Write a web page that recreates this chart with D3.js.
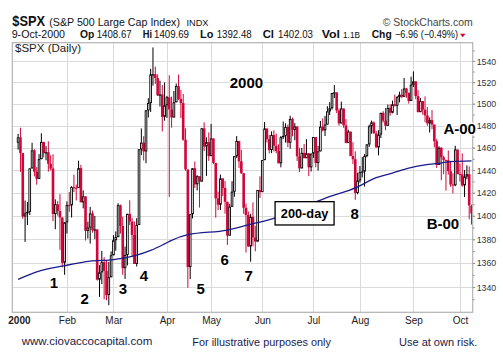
<!DOCTYPE html>
<html><head><meta charset="utf-8">
<script src="https://cdn.jsdelivr.net/npm/d3@7/dist/d3.min.js"></script>
<style>
body{margin:0;background:#fff;}
svg{display:block;font-family:"Liberation Sans",Arial,Helvetica,sans-serif;}
</style>
</head><body>
<svg id="chart" width="503" height="357"></svg>
<script>
// ---------------- data ----------------
const dates = [
"1999-12-31",
"2000-01-03","2000-01-04","2000-01-05","2000-01-06","2000-01-07","2000-01-10","2000-01-11","2000-01-12","2000-01-13","2000-01-14",
"2000-01-18","2000-01-19","2000-01-20","2000-01-21","2000-01-24","2000-01-25","2000-01-26","2000-01-27","2000-01-28","2000-01-31",
"2000-02-01","2000-02-02","2000-02-03","2000-02-04","2000-02-07","2000-02-08","2000-02-09","2000-02-10","2000-02-11","2000-02-14",
"2000-02-15","2000-02-16","2000-02-17","2000-02-18","2000-02-22","2000-02-23","2000-02-24","2000-02-25","2000-02-28","2000-02-29",
"2000-03-01","2000-03-02","2000-03-03","2000-03-06","2000-03-07","2000-03-08","2000-03-09","2000-03-10","2000-03-13","2000-03-14",
"2000-03-15","2000-03-16","2000-03-17","2000-03-20","2000-03-21","2000-03-22","2000-03-23","2000-03-24","2000-03-27","2000-03-28",
"2000-03-29","2000-03-30","2000-03-31",
"2000-04-03","2000-04-04","2000-04-05","2000-04-06","2000-04-07","2000-04-10","2000-04-11","2000-04-12","2000-04-13","2000-04-14",
"2000-04-17","2000-04-18","2000-04-19","2000-04-20","2000-04-24","2000-04-25","2000-04-26","2000-04-27","2000-04-28",
"2000-05-01","2000-05-02","2000-05-03","2000-05-04","2000-05-05","2000-05-08","2000-05-09","2000-05-10","2000-05-11","2000-05-12",
"2000-05-15","2000-05-16","2000-05-17","2000-05-18","2000-05-19","2000-05-22","2000-05-23","2000-05-24","2000-05-25","2000-05-26",
"2000-05-30","2000-05-31",
"2000-06-01","2000-06-02","2000-06-05","2000-06-06","2000-06-07","2000-06-08","2000-06-09","2000-06-12","2000-06-13","2000-06-14",
"2000-06-15","2000-06-16","2000-06-19","2000-06-20","2000-06-21","2000-06-22","2000-06-23","2000-06-26","2000-06-27","2000-06-28",
"2000-06-29","2000-06-30",
"2000-07-03","2000-07-05","2000-07-06","2000-07-07","2000-07-10","2000-07-11","2000-07-12","2000-07-13","2000-07-14","2000-07-17",
"2000-07-18","2000-07-19","2000-07-20","2000-07-21","2000-07-24","2000-07-25","2000-07-26","2000-07-27","2000-07-28","2000-07-31",
"2000-08-01","2000-08-02","2000-08-03","2000-08-04","2000-08-07","2000-08-08","2000-08-09","2000-08-10","2000-08-11","2000-08-14",
"2000-08-15","2000-08-16","2000-08-17","2000-08-18","2000-08-21","2000-08-22","2000-08-23","2000-08-24","2000-08-25","2000-08-28",
"2000-08-29","2000-08-30","2000-08-31",
"2000-09-01","2000-09-05","2000-09-06","2000-09-07","2000-09-08","2000-09-11","2000-09-12","2000-09-13","2000-09-14","2000-09-15",
"2000-09-18","2000-09-19","2000-09-20","2000-09-21","2000-09-22","2000-09-25","2000-09-26","2000-09-27","2000-09-28","2000-09-29",
"2000-10-02","2000-10-03","2000-10-04","2000-10-05","2000-10-06","2000-10-09"
];

const opens = [
1464.47,
1469.25,1455.22,1399.42,1402.11,1403.45,1441.47,1457.60,1438.56,1432.25,1449.68,1465.15,1455.14,1455.90,1445.57,1441.36,1401.53,1410.03,1404.09,1398.56,1360.16,
1394.46,1409.28,1409.12,1424.97,1424.37,1424.24,1441.72,1411.70,1416.83,1387.12,1389.94,1402.05,1387.67,1388.26,1346.09,1352.17,1360.69,1353.43,1333.36,1348.05,
1366.42,1379.19,1381.76,1409.17,1391.28,1355.62,1366.70,1401.69,1395.07,1383.62,1359.15,1392.15,1458.47,1464.47,1456.63,1493.87,1500.64,1527.35,1527.46,1523.86,1507.73,1508.52,1487.92,
1498.58,1505.98,1494.73,1487.37,1501.34,1516.35,1504.46,1500.59,1467.17,1440.51,1356.56,1401.44,1441.61,1427.47,1434.54,1429.86,1477.44,1460.99,1464.92,
1452.43,1468.25,1446.29,1415.10,1409.57,1432.63,1424.17,1412.14,1383.05,1407.81,1420.96,1452.36,1466.04,1447.80,1437.21,1406.95,1400.72,1373.86,1399.05,1381.52,1378.02,1422.44,
1420.60,1448.81,1477.26,1467.63,1457.84,1471.36,1461.67,1456.95,1446.00,1469.44,1470.54,1478.73,1464.46,1486.00,1475.95,1479.13,1452.18,1441.48,1455.31,1450.55,1454.82,1442.39,
1454.60,1469.54,1446.23,1456.67,1478.90,1475.62,1480.88,1492.92,1495.84,1509.98,1510.49,1493.74,1481.96,1495.57,1480.19,1464.29,1474.47,1452.42,1449.62,1419.89,
1430.83,1438.10,1438.70,1452.56,1462.93,1479.32,1482.80,1472.87,1460.25,1471.84,1491.56,1484.43,1479.85,1496.07,1491.72,1499.48,1498.13,1505.97,1508.31,1506.45,1514.09,1509.84,1502.59,
1517.68,1520.77,1507.08,1492.25,1502.51,1494.50,1489.26,1481.99,1484.91,1480.87,1465.81,1444.51,1459.90,1451.34,1449.05,1448.72,1439.03,1427.21,1426.57,1458.29,
1436.52,1436.23,1426.46,1434.32,1436.28,1408.67
];

const highs = [
1472.42,
1478.00,1455.22,1413.27,1411.90,1441.47,1464.36,1458.66,1442.60,1454.20,1473.00,1465.15,1461.39,1465.71,1453.18,1454.09,1414.26,1412.73,1418.86,1398.56,1394.48,
1412.49,1420.61,1425.78,1435.91,1427.15,1448.36,1444.55,1422.10,1416.83,1394.93,1407.72,1404.55,1399.88,1388.59,1358.11,1370.11,1364.80,1362.14,1360.82,1369.63,
1383.46,1386.56,1410.88,1409.74,1399.21,1373.79,1401.82,1413.46,1398.39,1395.15,1397.99,1458.47,1477.33,1470.30,1493.92,1505.08,1532.50,1552.87,1534.63,1527.36,1521.45,1517.38,1519.81,
1507.19,1526.45,1506.55,1511.76,1518.68,1527.19,1512.80,1509.08,1477.52,1440.51,1401.53,1441.61,1447.69,1435.49,1434.54,1477.67,1482.94,1469.21,1473.62,
1481.51,1468.25,1446.29,1420.99,1436.03,1432.63,1430.28,1412.14,1410.26,1430.13,1452.39,1470.40,1466.04,1458.04,1437.21,1410.55,1403.77,1401.75,1411.65,1391.42,1422.45,1434.49,
1448.81,1483.23,1477.28,1471.36,1474.64,1475.65,1472.67,1462.93,1470.42,1483.62,1482.04,1480.77,1488.93,1487.32,1482.19,1479.13,1459.94,1459.66,1463.35,1467.63,1455.14,1454.68,
1469.58,1469.54,1461.65,1484.12,1486.56,1488.77,1497.69,1501.39,1509.99,1517.32,1510.49,1495.63,1501.92,1495.57,1485.88,1476.23,1474.47,1464.91,1456.68,1437.65,
1443.54,1451.59,1454.19,1462.93,1480.80,1484.52,1483.80,1475.15,1475.72,1491.64,1493.12,1496.09,1499.32,1499.47,1502.84,1508.45,1507.20,1511.16,1513.47,1523.95,1514.81,1510.49,1525.21,
1530.09,1520.77,1512.61,1505.34,1502.51,1506.76,1496.93,1487.45,1494.16,1480.96,1467.77,1461.16,1460.49,1452.77,1449.05,1457.42,1448.04,1437.22,1461.69,1458.29,
1445.60,1454.82,1439.99,1444.17,1443.30,1409.69
];

const lows = [
1458.19,
1438.36,1397.43,1377.68,1392.10,1400.73,1441.47,1434.42,1427.08,1432.25,1449.68,1451.30,1448.68,1438.54,1439.60,1395.42,1388.49,1400.16,1370.99,1356.20,1350.14,
1384.79,1403.49,1398.52,1420.63,1413.33,1424.24,1411.65,1406.43,1378.89,1380.53,1376.25,1385.58,1380.07,1345.32,1331.88,1342.44,1329.88,1329.15,1325.07,1348.05,
1366.42,1370.35,1381.76,1384.75,1349.99,1346.62,1357.88,1392.07,1364.84,1359.15,1356.99,1392.15,1453.32,1448.49,1446.06,1487.33,1492.39,1516.83,1518.46,1507.09,1497.45,1474.63,1484.38,
1486.96,1416.41,1478.05,1487.37,1501.34,1503.35,1486.78,1466.15,1439.34,1339.40,1346.50,1397.81,1424.26,1422.08,1407.13,1429.86,1456.98,1434.81,1448.15,
1452.43,1445.22,1398.36,1404.94,1405.08,1417.05,1401.85,1375.14,1383.05,1407.81,1416.54,1450.76,1441.67,1436.59,1401.74,1368.73,1373.43,1361.09,1373.93,1369.75,1378.02,1415.50,
1420.60,1448.81,1464.68,1454.74,1455.06,1456.49,1454.96,1445.99,1442.38,1467.71,1464.62,1460.42,1459.05,1470.18,1466.71,1448.03,1438.31,1441.48,1450.55,1450.55,1434.63,1438.71,
1450.85,1442.45,1439.56,1456.67,1474.76,1470.48,1480.88,1489.65,1494.56,1505.26,1491.35,1479.92,1481.96,1477.91,1463.80,1464.29,1452.42,1445.33,1413.89,1418.71,
1428.96,1433.49,1425.43,1451.31,1460.72,1472.61,1472.84,1459.89,1453.06,1468.56,1482.74,1475.74,1479.85,1488.99,1491.13,1497.42,1489.52,1501.25,1505.09,1506.45,1505.46,1500.09,1502.59,
1515.53,1504.21,1492.12,1492.25,1489.88,1483.01,1479.67,1473.61,1476.73,1460.22,1441.92,1444.51,1430.95,1436.30,1421.88,1435.93,1425.25,1419.44,1425.78,1436.29,
1429.83,1425.28,1416.31,1431.80,1397.06,1392.48
];

const closes = [
1469.25,
1455.22,1399.42,1402.11,1403.45,1441.47,1457.60,1438.56,1432.25,1449.68,1465.15,1455.14,1455.90,1445.57,1441.36,1401.53,1410.03,1404.09,1398.56,1360.16,1394.46,
1409.28,1409.12,1424.97,1424.37,1424.24,1441.72,1411.71,1416.83,1387.12,1389.94,1402.05,1387.67,1388.26,1346.09,1352.17,1360.69,1353.43,1333.36,1348.05,1366.42,
1379.19,1381.76,1409.17,1391.28,1355.62,1366.70,1401.69,1395.07,1383.62,1359.15,1392.14,1458.47,1464.47,1456.63,1493.87,1500.64,1527.35,1527.46,1523.86,1507.73,1508.52,1487.92,1498.58,
1505.97,1494.73,1487.37,1501.34,1516.35,1504.46,1500.59,1467.17,1440.51,1356.56,1401.44,1441.61,1427.47,1434.54,1429.86,1477.44,1460.99,1464.92,1452.43,
1468.25,1446.29,1415.10,1409.57,1432.63,1424.17,1412.14,1383.05,1407.81,1420.96,1452.36,1466.04,1447.80,1437.21,1406.95,1400.72,1373.86,1399.05,1381.52,1378.02,1422.45,1420.60,
1448.81,1477.26,1467.63,1457.84,1471.36,1461.67,1456.95,1446.00,1469.44,1470.54,1478.73,1464.46,1486.00,1475.95,1479.13,1452.18,1441.48,1455.31,1450.55,1454.82,1442.39,1454.60,
1469.54,1446.23,1456.67,1478.90,1475.62,1480.88,1492.92,1495.84,1509.98,1510.49,1493.74,1481.96,1495.57,1480.19,1464.29,1474.47,1452.42,1449.62,1419.89,1430.83,
1438.10,1438.70,1452.56,1462.93,1479.32,1482.80,1472.87,1460.25,1471.84,1491.56,1484.43,1479.85,1496.07,1491.72,1499.48,1498.13,1505.97,1508.31,1506.45,1514.09,1509.84,1502.59,1517.68,
1520.77,1507.08,1492.25,1502.51,1494.50,1489.26,1481.99,1484.91,1480.87,1465.81,1444.51,1459.90,1451.34,1449.05,1448.72,1439.03,1427.21,1426.57,1458.29,1436.51,
1436.23,1426.46,1434.32,1436.28,1408.99,1402.03
];

// 200-day moving average at sample dates
const maDates  = ["1999-12-31","2000-01-12","2000-01-31","2000-02-15","2000-03-01","2000-03-15","2000-03-23","2000-03-31","2000-04-05","2000-04-14","2000-05-10","2000-05-23","2000-06-08","2000-07-11","2000-07-31","2000-08-09","2000-08-21","2000-08-30","2000-09-11","2000-09-19","2000-09-26","2000-10-09"];
const maValues = [1346.3,1352.5,1357.7,1361.5,1362.8,1366.5,1370.5,1376.0,1379.0,1383.8,1387.8,1392.2,1397.9,1415.2,1425.2,1432.5,1437.3,1441.7,1444.5,1446.0,1447.4,1448.1];

const yTickValues = [1340,1360,1380,1400,1420,1440,1460,1480,1500,1520,1540];
const yMinorTicks = [1330,1340,1350,1360,1370,1380,1390,1400,1410,1420,1430,1440,1450,1460,1470,1480,1490,1500,1510,1520,1530,1540,1550];
const monthLabels = ["2000","Feb","Mar","Apr","May","Jun","Jul","Aug","Sep","Oct"];
const markLabels = ["1","2","3","4","5","6","7","8"];

// ---------------- layout ----------------
const svg = d3.select("#chart");
const L = 12.3, R = 472.7, T = 42.7, B = 312.3;
const RED = "#d0063b", BLACK = "#000";

const x = d3.scaleLinear().domain([-2.5, 195.5]).range([L, R]);   // index 0 = Dec 31 1999
const y = d3.scaleLog().domain([1319.3, 1557.4]).range([B, T]);

const idxOf = {};
dates.forEach((d, i) => idxOf[d] = i);

// month starts (first trading day of each month in 2000)
const monthStarts = [];
for (let i = 1; i < dates.length; i++) {
  if (dates[i].slice(0, 7) !== dates[i - 1].slice(0, 7)) monthStarts.push(i);
}

// defs clip
svg.append("defs").append("clipPath").attr("id", "plotclip")
  .append("rect").attr("x", L).attr("y", T).attr("width", R - L).attr("height", B - T);

// gridlines
const grid = svg.append("g");
grid.selectAll("line.h").data(yTickValues).join("line")
  .attr("x1", L).attr("x2", R).attr("y1", d => Math.round(y(d)) + 0.5).attr("y2", d => Math.round(y(d)) + 0.5)
  .attr("stroke", "#dadada").attr("stroke-width", 1);
grid.selectAll("line.v").data(monthStarts.slice(1)).join("line")
  .attr("y1", T).attr("y2", B).attr("x1", d => Math.round(x(d)) + 0.5).attr("x2", d => Math.round(x(d)) + 0.5)
  .attr("stroke", "#dadada").attr("stroke-width", 1);

// candles
const plot = svg.append("g").attr("clip-path", "url(#plotclip)");
const bw = 2.6;
const candles = dates.map((d, i) => ({
  i, o: opens[i], h: highs[i], l: lows[i], c: closes[i],
  col: (i === 0 || closes[i] >= closes[i - 1]) ? BLACK : RED
}));
const cg = plot.selectAll("g.c").data(candles).join("g");
cg.append("line")
  .attr("x1", d => x(d.i)).attr("x2", d => x(d.i))
  .attr("y1", d => y(d.h)).attr("y2", d => y(d.l))
  .attr("stroke", d => d.col).attr("stroke-width", 1);
cg.append("rect")
  .attr("x", d => d.c >= d.o ? x(d.i) - bw / 2 + 0.45 : x(d.i) - bw / 2)
  .attr("y", d => d.c >= d.o ? y(Math.max(d.o, d.c)) + 0.45 : y(Math.max(d.o, d.c)))
  .attr("width", d => d.c >= d.o ? bw - 0.9 : bw)
  .attr("height", d => Math.max(d.c >= d.o ? 0.3 : 1, Math.abs(y(d.o) - y(d.c)) - (d.c >= d.o ? 0.9 : 0)))
  .attr("fill", d => d.c >= d.o ? "#fff" : d.col)
  .attr("stroke", d => d.c >= d.o ? d.col : "none")
  .attr("stroke-width", 0.9);

// 200-day MA
const maPts = maDates.map((d, k) => [idxOf[d], maValues[k]]);
plot.append("path").datum(maPts)
  .attr("d", d3.line().x(p => x(p[0])).y(p => y(p[1])).curve(d3.curveMonotoneX))
  .attr("fill", "none").attr("stroke", "#1b1b8e").attr("stroke-width", 1.3);

// frame
svg.append("rect").attr("x", L).attr("y", T).attr("width", R - L).attr("height", B - T)
  .attr("fill", "none").attr("stroke", "#b3b3b3").attr("stroke-width", 1.2);

// y axis (right)
const yAxis = svg.append("g").attr("transform", `translate(${R},0)`)
  .call(d3.axisRight(y).tickValues(yTickValues).tickFormat(d3.format("d")).tickSize(2.5).tickPadding(1.5));
yAxis.select(".domain").remove();
yAxis.selectAll(".tick line").attr("stroke", "#999");
yAxis.selectAll(".tick text").attr("font-size", 9.5).attr("fill", "#333")
  .attr("font-family", '"Liberation Sans",Arial,sans-serif').attr("textLength", 19.5).attr("lengthAdjust", "spacingAndGlyphs");
const yMinor = svg.append("g").attr("transform", `translate(${R},0)`)
  .call(d3.axisRight(y).tickValues(yMinorTicks).tickFormat("").tickSize(2));
yMinor.select(".domain").remove();
yMinor.selectAll(".tick line").attr("stroke", "#999");

// x axis
const xAxis = svg.append("g").attr("transform", `translate(0,${B})`)
  .call(d3.axisBottom(x).tickValues(monthStarts).tickFormat((d, k) => monthLabels[k]).tickSize(0).tickPadding(4.5));
xAxis.select(".domain").remove();
xAxis.selectAll(".tick text").attr("font-size", 10).attr("fill", "#222")
  .attr("font-family", '"Liberation Sans",Arial,sans-serif')
  .attr("font-weight", (d, k) => k === 0 ? "bold" : "normal")
  .attr("dx", (d, k) => k === 0 ? -1.5 : 0);

// plot legend
svg.append("text").attr("x", 15).attr("y", 51.5).attr("font-size", 10).attr("fill", "#222")
  .attr("textLength", 66).attr("lengthAdjust", "spacingAndGlyphs").text("$SPX (Daily)");

// ---------------- header ----------------
const last = dates.length - 1;
const fmt2 = d3.format(".2f");
const chg = closes[last] - closes[last - 1];
const pct = chg / closes[last - 1] * 100;
const hdr = svg.append("g");
function t(xp, yp, txt, size, weight, len, fill) {
  const el = hdr.append("text").attr("x", xp).attr("y", yp).attr("font-size", size)
    .attr("font-weight", weight || "normal").attr("fill", fill || "#111").text(txt);
  if (len) el.attr("textLength", len).attr("lengthAdjust", "spacingAndGlyphs");
  return el;
}
const Y1 = 25.6, Y2 = 38.3;
t(12.3, Y1 + 0.4, "$SPX", 14, "bold", 32.7);
t(49.3, Y1, "(S&P 500 Large Cap Index)", 11.2, "normal", 130.7);
t(186.5, Y1, "INDX", 9.5, "normal", 22);
t(382.7, Y1, "\u00A9 StockCharts.com", 11.5, "normal", 90, "#444");
const d9 = new Date(dates[last] + "T00:00:00");
t(11.7, Y2, d3.timeFormat("%-d-%b-%Y")(d9), 10.5, "normal", 53.3);
t(80, Y2, "Op", 11, "bold", 14.3);
t(96.7, Y2, fmt2(opens[last]), 10.5, "normal", 35);
t(142.7, Y2, "Hi", 11, "bold", 9.3);
t(154, Y2, fmt2(highs[last]), 10.5, "normal", 35);
t(200, Y2, "Lo", 11, "bold", 13.3);
t(216.7, Y2, fmt2(lows[last]), 10.5, "normal", 35);
t(262.7, Y2, "Cl", 11, "bold", 11.3);
t(278, Y2, fmt2(closes[last]), 10.5, "normal", 35);
t(321.7, Y2, "Vol", 11, "bold", 18.3);
t(343, Y2, "1.1B", 9.5, "normal", 17);
t(371.7, Y2, "Chg", 11, "bold", 20);
t(395, Y2, `${fmt2(chg)} (${fmt2(pct)}%)`, 10.5, "normal", 63);
hdr.append("path").attr("d", "M460,33.8 L465.5,33.8 L462.75,37.3 Z").attr("fill", RED);

// ---------------- annotations ----------------
const ann = svg.append("g").attr("font-weight", "bold").attr("fill", "#000")
  .attr("stroke", "#fff").attr("stroke-width", 3).attr("paint-order", "stroke")
  .attr("text-anchor", "middle").attr("dominant-baseline", "central");
const markAnchors = [[15.4,1343.6],[28.6,1330.7],[45.1,1338.9],[54.1,1349.9],[78.5,1338.9],[88.8,1363.0],[99.2,1349.9],[144.7,1402.2]];
markLabels.forEach((s, k) => {
  ann.append("text").attr("x", x(markAnchors[k][0])).attr("y", y(markAnchors[k][1])).attr("font-size", 15).text(s);
});
ann.append("text").attr("x", x(98.2)).attr("y", y(1519.9)).attr("font-size", 15).text("2000");
ann.append("text").attr("x", x(189.9)).attr("y", y(1477.5)).attr("font-size", 15).text("A-00");
ann.append("text").attr("x", x(182.7)).attr("y", y(1393.6)).attr("font-size", 15).text("B-00");

// 200-day box
const bx = x(123.2), by = y(1402.2);
svg.append("rect").attr("x", bx - 29.5).attr("y", by - 11.6).attr("width", 59).attr("height", 23.3)
  .attr("fill", "#fff").attr("stroke", "#000").attr("stroke-width", 1.3);
svg.append("text").attr("x", bx).attr("y", by).attr("text-anchor", "middle").attr("dominant-baseline", "central")
  .attr("font-size", 13.5).attr("font-weight", "bold").attr("fill", "#000")
  .attr("textLength", 47.6).attr("lengthAdjust", "spacingAndGlyphs").text("200-day");

// ---------------- footer ----------------
const ft = svg.append("g").attr("fill", "#1a1a4a").attr("font-size", 11.5);
ft.append("text").attr("x", 21.7).attr("y", 344.5).attr("textLength", 130.6).attr("lengthAdjust", "spacingAndGlyphs").text("www.ciovaccocapital.com");
ft.append("text").attr("x", 192.3).attr("y", 345.5).attr("textLength", 138.7).attr("lengthAdjust", "spacingAndGlyphs").text("For illustrative purposes only");
ft.append("text").attr("x", 399).attr("y", 346).attr("textLength", 78.3).attr("lengthAdjust", "spacingAndGlyphs").text("Use at own risk.");
</script>
</body></html>
